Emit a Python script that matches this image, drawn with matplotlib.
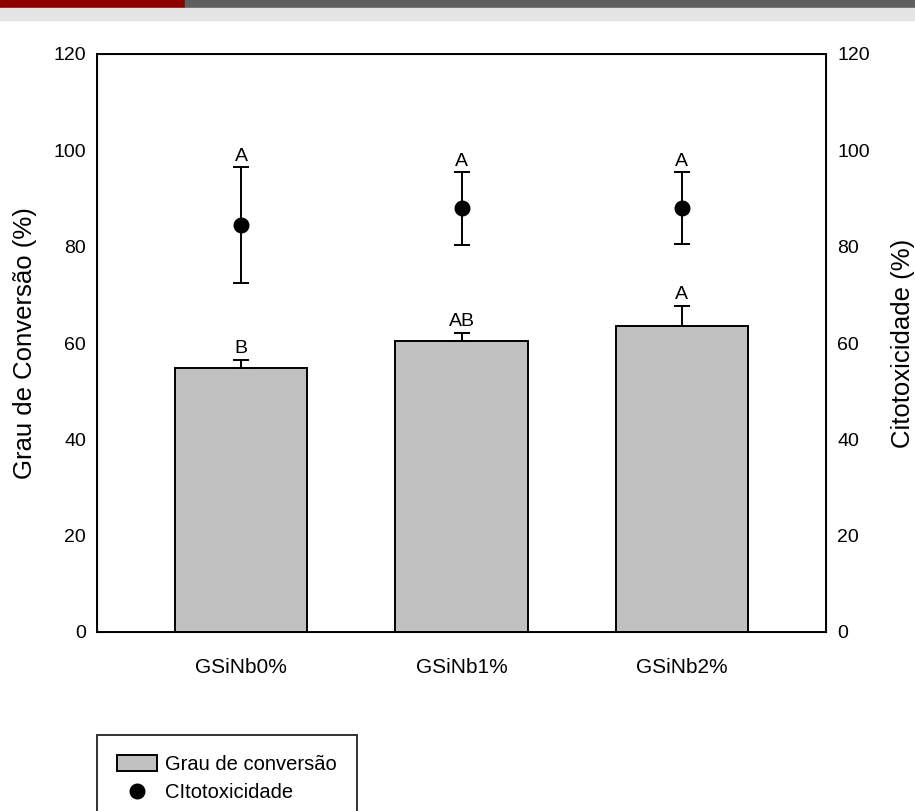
import numpy as np
import matplotlib.pyplot as plt
from matplotlib.patches import Rectangle
from matplotlib.lines import Line2D

plt.rcParams['font.family'] = ['Liberation Sans', 'DejaVu Sans']

# data
grupos = ['GSiNb0%', 'GSiNb1%', 'GSiNb2%']
conversao = [54.8, 60.4, 63.5]
conversao_err = [1.7, 1.7, 4.2]
conversao_letras = ['B', 'AB', 'A']
citotox = [84.5, 88.0, 88.0]
citotox_err = [12.0, 7.6, 7.5]
citotox_letras = ['A', 'A', 'A']

fig = plt.figure(figsize=(9.15, 8.11), dpi=100)

# header strips at the top (cut off slide banner)
fig.patches.append(Rectangle((0, 1 - 8/811), 185/915, 8/811, transform=fig.transFigure,
                             color='#8f0000', zorder=0))
fig.patches.append(Rectangle((185/915, 1 - 8/811), 1 - 185/915, 8/811, transform=fig.transFigure,
                             color='#5f5f5f', zorder=0))
fig.patches.append(Rectangle((0, 1 - 20/811), 1, 12/811, transform=fig.transFigure,
                             color='#e5e5e5', zorder=0))

ax = fig.add_axes([97/915, 1 - 632/811, (826 - 97)/915, (632 - 54)/811])
x = np.arange(len(grupos))

ax.bar(x, conversao, width=0.6, color='#c0c0c0', edgecolor='black', linewidth=1.4, zorder=2)
ax.errorbar(x, conversao, yerr=[np.zeros(3), conversao_err], fmt='none', ecolor='black',
            elinewidth=1.4, capsize=6, capthick=1.4, zorder=3)
for xi, v, e, t in zip(x, conversao, conversao_err, conversao_letras):
    ax.text(xi, v + e + 0.6, t, ha='center', va='bottom', fontsize=14)

ax.set_xlim(-0.655, 2.655)
ax.set_ylim(0, 120)
ax.set_yticks(np.arange(0, 121, 20))
ax.set_xticks(x)
ax.set_xticklabels(grupos, fontsize=15)
ax.tick_params(axis='y', length=0, labelsize=14, pad=8)
ax.tick_params(axis='x', length=0, pad=19)
for s in ax.spines.values():
    s.set_linewidth(1.4)
ax.set_ylabel('Grau de Conversão (%)', fontsize=18.5, labelpad=12)

ax2 = ax.twinx()
ax2.set_ylim(0, 120)
ax2.set_yticks(np.arange(0, 121, 20))
ax2.tick_params(axis='y', length=0, labelsize=14, pad=8)
ax2.errorbar(x, citotox, yerr=citotox_err, fmt='o', color='black', markersize=10.5,
             elinewidth=1.4, capsize=6, capthick=1.4, zorder=3)
for xi, v, e, t in zip(x, citotox, citotox_err, citotox_letras):
    ax2.text(xi, v + e + 0.4, t, ha='center', va='bottom', fontsize=14)
ax2.set_ylabel('Citotoxicidade (%)', fontsize=18.5, labelpad=15)

handles = [Rectangle((0, 0), 1, 1, facecolor='#c0c0c0', edgecolor='black', linewidth=1.4),
           Line2D([], [], linestyle='none', marker='o', color='black', markersize=10.5)]
labels = ['Grau de conversão', 'CItotoxicidade']
leg = fig.legend(handles, labels, loc='upper left', bbox_to_anchor=(97/915, 1 - 735/811),
                 fontsize=14.5, frameon=True, fancybox=False, edgecolor='black',
                 borderpad=1.0, handlelength=2.0, handleheight=0.8, handletextpad=0.4,
                 labelspacing=0.45, borderaxespad=0)
leg.get_frame().set_linewidth(1.4)

fig.savefig('out.png', dpi=100)
